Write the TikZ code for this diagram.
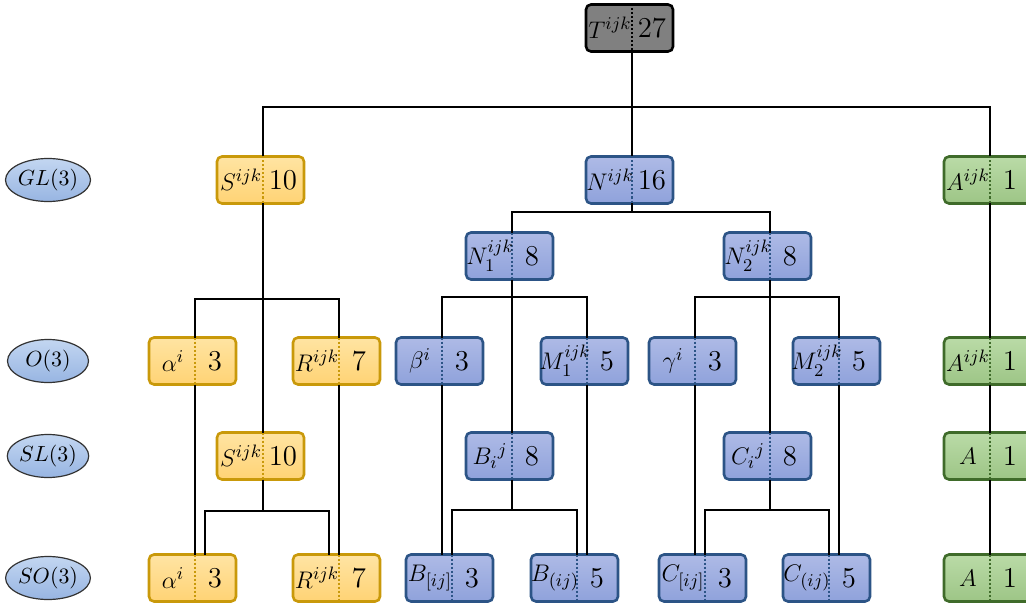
\documentclass[tikz,border=0pt]{standalone}
\usepackage{amssymb,amsmath}
\usepackage{tikz}
\usetikzlibrary{shapes.geometric}

\definecolor{yeltop}{HTML}{FFE4A3}
\definecolor{yelbot}{HTML}{FFD374}
\definecolor{yelline}{HTML}{C9990A}
\definecolor{bluetop}{HTML}{AEBAE6}
\definecolor{bluebot}{HTML}{8FA2DB}
\definecolor{blueline}{HTML}{2C5486}
\definecolor{greentop}{HTML}{BADBA7}
\definecolor{greenbot}{HTML}{9DC586}
\definecolor{greenline}{HTML}{3F6B2A}
\definecolor{ellitop}{HTML}{C3D6F1}
\definecolor{ellibot}{HTML}{97B5E2}

\tikzset{
  link/.style={line width=1pt},
  grp/.style={ellipse, draw=black!80, line width=0.6pt, top color=ellitop,
    bottom color=ellibot, minimum width=40.5pt, minimum height=21.5pt,
    inner sep=0pt, font=\fontsize{11}{13}\selectfont},
  box/.style={rounded corners=2.5pt, line width=1.3pt, minimum width=43.5pt,
    minimum height=23.5pt, inner sep=0pt},
  yelbox/.style={box, draw=yelline, top color=yeltop, bottom color=yelbot},
  bluebox/.style={box, draw=blueline, top color=bluetop, bottom color=bluebot},
  greenbox/.style={box, draw=greenline, top color=greentop, bottom color=greenbot},
  graybox/.style={box, draw=black, fill=black!50},
  divnode/.style={minimum width=0pt, minimum height=23.5pt, inner sep=0pt, outer sep=0pt},
  yeldiv/.style={draw=yelline, line width=1.2pt, dash pattern=on 1pt off 1pt},
  bluediv/.style={draw=blueline, line width=1.2pt, dash pattern=on 1pt off 1pt},
  greendiv/.style={draw=greenline, line width=1.2pt, dash pattern=on 1pt off 1pt},
  graydiv/.style={draw=black, line width=1.2pt, dash pattern=on 1pt off 1pt},
  sym/.style={inner sep=0pt, font=\fontsize{12.5}{15}\selectfont},
  dim/.style={inner sep=0pt, font=\fontsize{14}{16}\selectfont}
}

% box with dotted divider: name, colour, x, y, symbol, dimension
\newcommand{\irrep}[6]{%
  \node[#2box] (#1-box) at (#3-2.5,#4) {};
  \node[divnode] (#1) at (#3,#4) {};
  \draw[#2div] (#1.north) -- (#1.south);
  \node[sym] (#1-sym) at (#3-22,#4) {$#5$};
  \node[dim] (#1-dim) at (#3+20,#4) {$#6$};
}

\begin{document}
\begin{tikzpicture}[x=0.5pt,y=-0.5pt]
\useasboundingbox (0,0) rectangle (1026,604);

% groups
\node[grp] (gl) at (48,180) {$GL(3)$};
\node[grp] (o)  at (48,361) {$O(3)$};
\node[grp] (sl) at (48,456) {$SL(3)$};
\node[grp] (so) at (48,578) {$SO(3)$};

% tensors
\irrep{T}{gray}{632}{28}{T^{ijk}}{27}

\irrep{S}{yel}{263}{180}{S^{ijk}}{10}
\irrep{N}{blue}{632}{180}{N^{ijk}}{16}
\irrep{A}{green}{990}{180}{A^{ijk}}{1}

\irrep{N1}{blue}{512}{256}{N^{ijk}_1}{8}
\irrep{N2}{blue}{770}{256}{N^{ijk}_2}{8}

\irrep{al}{yel}{195}{361}{\alpha^i}{3}
\irrep{R}{yel}{339}{361}{R^{ijk}}{7}
\irrep{be}{blue}{442}{361}{\beta^i}{3}
\irrep{M1}{blue}{587}{361}{M^{ijk}_1}{5}
\irrep{ga}{blue}{695}{361}{\gamma^i}{3}
\irrep{M2}{blue}{839}{361}{M^{ijk}_2}{5}
\irrep{A2}{green}{990}{361}{A^{ijk}}{1}

\irrep{S2}{yel}{263}{456}{S^{ijk}}{10}
\irrep{Bi}{blue}{512}{456}{B_i{}^j}{8}
\irrep{Ci}{blue}{770}{456}{C_i{}^j}{8}
\irrep{A3}{green}{990}{456}{A}{1}

\irrep{al2}{yel}{195}{578}{\alpha^i}{3}
\irrep{R2}{yel}{339}{578}{R^{ijk}}{7}
\irrep{Ba}{blue}{452}{578}{B_{[ij]}}{3}
\irrep{Bs}{blue}{577}{578}{B_{(ij)}}{5}
\irrep{Ca}{blue}{705}{578}{C_{[ij]}}{3}
\irrep{Cs}{blue}{829}{578}{C_{(ij)}}{5}
\irrep{A4}{green}{990}{578}{A}{1}

% GL(3)
\draw[link] (T.south) -- (N.north);
\draw[link] (S.north) |- (A.north |- 0,107) -- (A.north);

% S branch
\draw[link] (S.south) -- (S2.north);
\draw[link] (al.north) |- (R.north |- 0,299) -- (R.north);
\draw[link] (al.south) -- (al2.north);
\draw[link] (R.south) -- (R2.north);
\draw[link] (S2.south) -- ++(0,31) coordinate (S2-bus);
\draw[link] ([xshift=5pt]al2.north) |- ([xshift=-5pt]R2.north |- S2-bus) -- ([xshift=-5pt]R2.north);

% N branch
\draw[link] (N.south) -- ++(0,8) coordinate (N-bus);
\draw[link] (N1.north) |- (N2.north |- N-bus) -- (N2.north);

\draw[link] (N1.south) -- (Bi.north);
\draw[link] (be.north) |- (M1.north |- 0,297) -- (M1.north);
\draw[link] (be.south) -- ([xshift=-5pt]Ba.north);
\draw[link] (M1.south) -- ([xshift=5pt]Bs.north);
\draw[link] (Bi.south) -- ++(0,30) coordinate (Bi-bus);
\draw[link] (Ba.north) |- (Bs.north |- Bi-bus) -- (Bs.north);

\draw[link] (N2.south) -- (Ci.north);
\draw[link] (ga.north) |- (M2.north |- 0,297) -- (M2.north);
\draw[link] (ga.south) -- ([xshift=-5pt]Ca.north);
\draw[link] (M2.south) -- ([xshift=5pt]Cs.north);
\draw[link] (Ci.south) -- ++(0,30) coordinate (Ci-bus);
\draw[link] (Ca.north) |- (Cs.north |- Ci-bus) -- (Cs.north);

% A branch
\draw[link] (A.south) -- (A2.north);
\draw[link] (A2.south) -- (A3.north);
\draw[link] (A3.south) -- (A4.north);
\end{tikzpicture}
\end{document}
